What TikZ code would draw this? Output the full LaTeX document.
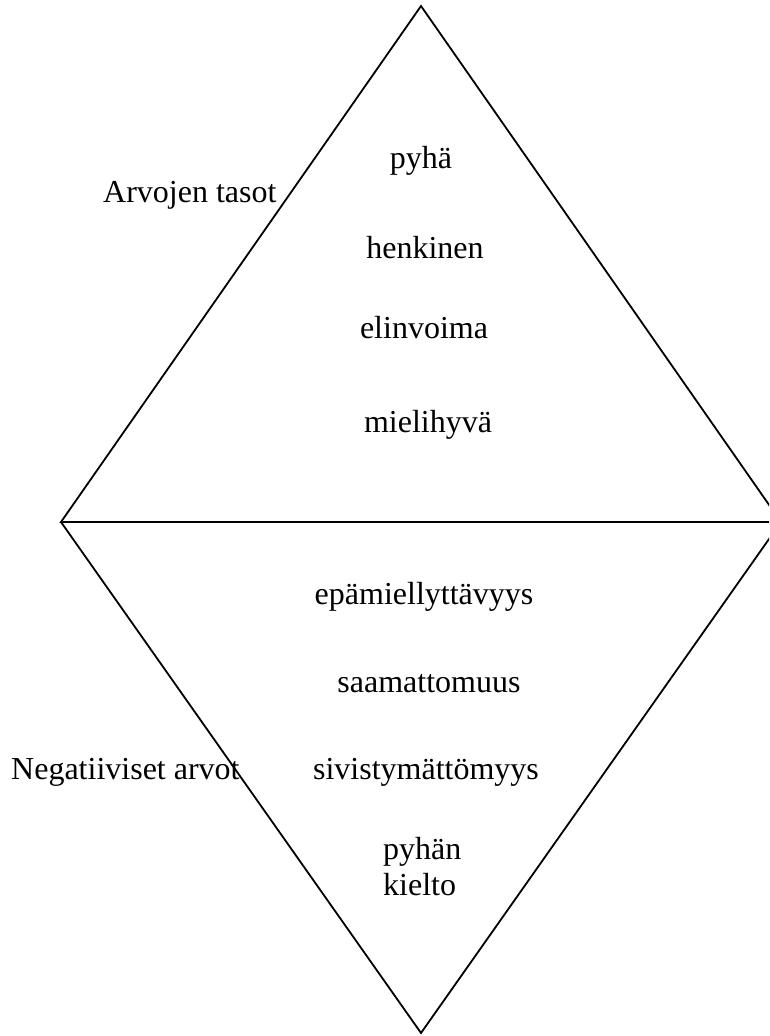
\documentclass[tikz,border=0pt]{standalone}
\usepackage{fontspec}
\setmainfont{Liberation Serif}
\usepackage{tikz}

\begin{document}
\begin{tikzpicture}[
    x=1pt, y=-1pt,
    edge/.style={draw, line width=1.8pt, line join=miter},
    level/.style={font=\fontsize{32}{36}\selectfont, anchor=base, inner sep=0pt},
    side/.style={font=\fontsize{32}{36}\selectfont, anchor=base west, inner sep=0pt}
]
\useasboundingbox (0,0) rectangle (769,1036);
\clip (0,0) rectangle (769,1036);

% Corners of the two triangles
\coordinate (left) at (61,522);
\coordinate (top) at (421,6);
\coordinate (right) at (781,522);
\coordinate (bottom) at (421,1033);

% Upper and lower triangle
\draw[edge] (left) -- (top) -- (right) -- cycle;
\draw[edge] (left) -- (bottom) -- (right);

% Upper levels
\node[level] (pyha) at (421,168) {pyhä};
\node[level] (henkinen) at (425,258) {henkinen};
\node[level] (elinvoima) at (424,338) {elinvoima};
\node[level] (mielihyva) at (428,432) {mielihyvä};

% Lower levels
\node[level] (epamiel) at (424,604) {epämiellyttävyys};
\node[level] (saamatt) at (429,692) {saamattomuus};
\node[level] (sivist) at (426,779) {sivistymättömyys};
\node[side, align=left, anchor=north west] (kielto) at (383,837) {pyhän\\kielto};

% Side labels
\node[side] (tasot) at (103,202) {Arvojen tasot};
\node[side] (negat) at (11,779) {Negatiiviset arvot};

\end{tikzpicture}
\end{document}
